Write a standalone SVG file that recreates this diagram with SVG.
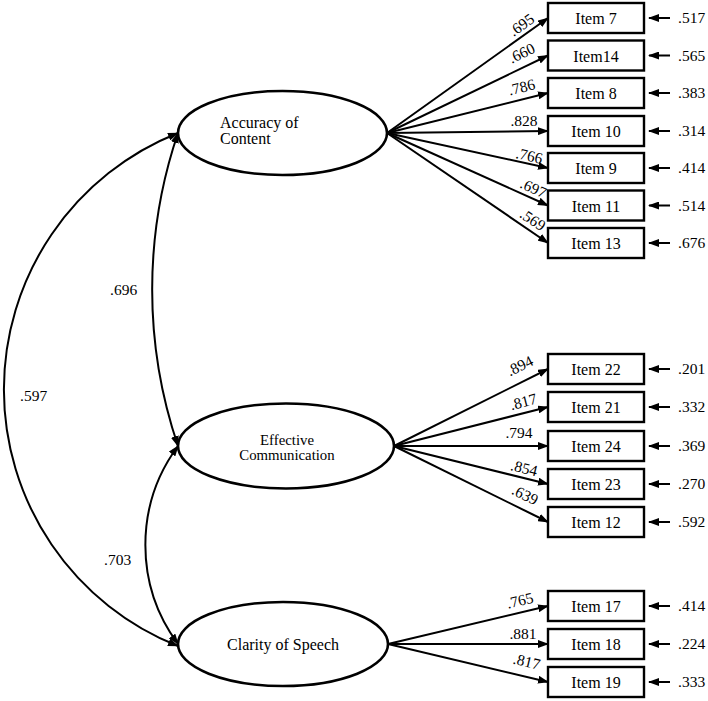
<svg xmlns="http://www.w3.org/2000/svg" width="708" height="701" viewBox="0 0 708 701" font-family="'Liberation Serif', 'Times New Roman', 'DejaVu Serif', serif">
<defs>
<marker id="ah" markerUnits="userSpaceOnUse" markerWidth="11" markerHeight="8" refX="10" refY="4" orient="auto-start-reverse">
<path d="M0,0 L11,4 L0,8 Z" fill="#000"/>
</marker>
<style>
.lat{fill:#fff;stroke:#000;stroke-width:2.6}
.box{fill:#fff;stroke:#000;stroke-width:2.4}
.con{fill:none;stroke:#000;stroke-width:2;marker-end:url(#ah)}
.cov{fill:none;stroke:#000;stroke-width:2;marker-start:url(#ah);marker-end:url(#ah)}
text{font-family:'Liberation Serif','Times New Roman','DejaVu Serif',serif;fill:#000}
.it{font-size:16px;text-anchor:middle}
.ld{font-size:15.5px;text-anchor:middle}
.er{font-size:15.5px}
.lt{font-size:15.5px}
</style>
</defs>
<rect width="708" height="701" fill="#fff"/>

<g id="connectors">
<path class="cov" d="M178,133 A276,276 0 0 0 178,646"/>
<path class="cov" d="M178,133 A487,487 0 0 0 178,446"/>
<path class="cov" d="M178,446 A166.5,166.5 0 0 0 178,644"/>

<line class="con" x1="387" y1="133" x2="548" y2="18"/>
<line class="con" x1="387" y1="133" x2="548" y2="55.5"/>
<line class="con" x1="387" y1="133" x2="548" y2="93"/>
<line class="con" x1="387" y1="133" x2="548" y2="131"/>
<line class="con" x1="387" y1="133" x2="548" y2="168"/>
<line class="con" x1="387" y1="133" x2="548" y2="205.5"/>
<line class="con" x1="387" y1="133" x2="548" y2="243"/>

<line class="con" x1="394" y1="446" x2="548" y2="369"/>
<line class="con" x1="394" y1="446" x2="548" y2="407"/>
<line class="con" x1="394" y1="446" x2="548" y2="446"/>
<line class="con" x1="394" y1="446" x2="548" y2="484"/>
<line class="con" x1="394" y1="446" x2="548" y2="522"/>

<line class="con" x1="388" y1="644" x2="548" y2="606"/>
<line class="con" x1="388" y1="644" x2="548" y2="644"/>
<line class="con" x1="388" y1="644" x2="548" y2="682"/>

<line class="con" x1="670" y1="18" x2="649" y2="18"/>
<line class="con" x1="670" y1="55.5" x2="649" y2="55.5"/>
<line class="con" x1="670" y1="93" x2="649" y2="93"/>
<line class="con" x1="670" y1="131" x2="649" y2="131"/>
<line class="con" x1="670" y1="168" x2="649" y2="168"/>
<line class="con" x1="670" y1="205.5" x2="649" y2="205.5"/>
<line class="con" x1="670" y1="243" x2="649" y2="243"/>
<line class="con" x1="670" y1="369" x2="649" y2="369"/>
<line class="con" x1="670" y1="407" x2="649" y2="407"/>
<line class="con" x1="670" y1="446" x2="649" y2="446"/>
<line class="con" x1="670" y1="484" x2="649" y2="484"/>
<line class="con" x1="670" y1="522" x2="649" y2="522"/>
<line class="con" x1="670" y1="606" x2="649" y2="606"/>
<line class="con" x1="670" y1="644" x2="649" y2="644"/>
<line class="con" x1="670" y1="682" x2="649" y2="682"/>

<text class="lt" x="110" y="295">.696</text>
<text class="lt" x="20" y="401">.597</text>
<text class="lt" x="104" y="565">.703</text>

<text class="ld" x="524.6" y="29.1" transform="rotate(-35.5 524.6 29.1)">.695</text>
<text class="ld" x="523.9" y="57.8" transform="rotate(-25.7 523.9 57.8)">.660</text>
<text class="ld" x="522.9" y="92.2" transform="rotate(-14 522.9 92.2)">.786</text>
<text class="ld" x="524" y="125.7">.828</text>
<text class="ld" x="528.2" y="160.9" transform="rotate(12.3 528.2 160.9)">.766</text>
<text class="ld" x="531.3" y="192.9" transform="rotate(24 531.3 192.9)">.697</text>
<text class="ld" x="529.9" y="224.1" transform="rotate(34 529.9 224.1)">.569</text>

<text class="ld" x="522.2" y="370.5" transform="rotate(-26.6 522.2 370.5)">.894</text>
<text class="ld" x="524.7" y="406.8" transform="rotate(-14.2 524.7 406.8)">.817</text>
<text class="ld" x="519" y="437.5">.794</text>
<text class="ld" x="522.8" y="473.2" transform="rotate(13.9 522.8 473.2)">.854</text>
<text class="ld" x="522.8" y="499.5" transform="rotate(26.3 522.8 499.5)">.639</text>

<text class="ld" x="521.2" y="605.6" transform="rotate(-13.4 521.2 605.6)">.765</text>
<text class="ld" x="523" y="639">.881</text>
<text class="ld" x="525.5" y="666.6" transform="rotate(13.4 525.5 666.6)">.817</text>

<text class="er" x="678" y="23">.517</text>
<text class="er" x="678" y="60.5">.565</text>
<text class="er" x="678" y="98">.383</text>
<text class="er" x="678" y="136">.314</text>
<text class="er" x="678" y="173">.414</text>
<text class="er" x="678" y="210.5">.514</text>
<text class="er" x="678" y="248">.676</text>
<text class="er" x="678" y="374">.201</text>
<text class="er" x="678" y="412">.332</text>
<text class="er" x="678" y="451">.369</text>
<text class="er" x="678" y="489">.270</text>
<text class="er" x="678" y="527">.592</text>
<text class="er" x="678" y="611">.414</text>
<text class="er" x="678" y="649">.224</text>
<text class="er" x="678" y="687">.333</text>
</g>

<g id="accuracy">
<ellipse class="lat" cx="282.5" cy="133" rx="104.5" ry="42"/>
<text x="220" y="127.5" font-size="16">Accuracy of</text>
<text x="220" y="143.5" font-size="16">Content</text>
</g>
<g id="effective">
<ellipse class="lat" cx="286" cy="446" rx="108" ry="42.5"/>
<text x="287" y="444.5" font-size="14.8" text-anchor="middle">Effective</text>
<text x="287" y="459.5" font-size="14.8" text-anchor="middle">Communication</text>
</g>
<g id="clarity">
<ellipse class="lat" cx="283" cy="644" rx="105" ry="42"/>
<text x="283" y="650" font-size="16" text-anchor="middle">Clarity of Speech</text>
</g>

<g id="item7"><rect class="box" x="548" y="3" width="96" height="30"/><text class="it" x="596" y="24">Item 7</text></g>
<g id="item14"><rect class="box" x="548" y="40.5" width="96" height="30"/><text class="it" x="596" y="61.5">Item14</text></g>
<g id="item8"><rect class="box" x="548" y="78" width="96" height="30"/><text class="it" x="596" y="99">Item 8</text></g>
<g id="item10"><rect class="box" x="548" y="116" width="96" height="30"/><text class="it" x="596" y="137">Item 10</text></g>
<g id="item9"><rect class="box" x="548" y="153" width="96" height="30"/><text class="it" x="596" y="174">Item 9</text></g>
<g id="item11"><rect class="box" x="548" y="190.5" width="96" height="30"/><text class="it" x="596" y="211.5">Item 11</text></g>
<g id="item13"><rect class="box" x="548" y="228" width="96" height="30"/><text class="it" x="596" y="249">Item 13</text></g>

<g id="item22"><rect class="box" x="548" y="354" width="96" height="30"/><text class="it" x="596" y="375">Item 22</text></g>
<g id="item21"><rect class="box" x="548" y="392" width="96" height="30"/><text class="it" x="596" y="413">Item 21</text></g>
<g id="item24"><rect class="box" x="548" y="431" width="96" height="30"/><text class="it" x="596" y="452">Item 24</text></g>
<g id="item23"><rect class="box" x="548" y="469" width="96" height="30"/><text class="it" x="596" y="490">Item 23</text></g>
<g id="item12"><rect class="box" x="548" y="507" width="96" height="30"/><text class="it" x="596" y="528">Item 12</text></g>

<g id="item17"><rect class="box" x="548" y="591" width="96" height="30"/><text class="it" x="596" y="612">Item 17</text></g>
<g id="item18"><rect class="box" x="548" y="629" width="96" height="30"/><text class="it" x="596" y="650">Item 18</text></g>
<g id="item19"><rect class="box" x="548" y="667" width="96" height="30"/><text class="it" x="596" y="688">Item 19</text></g>
</svg>
